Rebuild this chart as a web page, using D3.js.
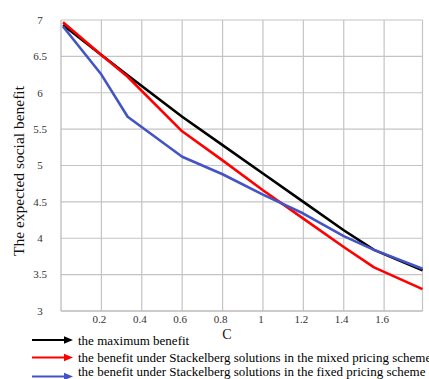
<!DOCTYPE html>
<html><head><meta charset="utf-8">
<script src="https://cdn.jsdelivr.net/npm/d3@7/dist/d3.min.js"></script>
<style>html,body{margin:0;padding:0;background:#fff;overflow:hidden}</style>
</head><body>
<svg id="chart" width="429" height="379"></svg>
<script>
const cValues = [0.01, 0.2, 0.33, 0.6, 0.8, 1.0, 1.2, 1.4, 1.55, 1.79];
const maxBenefit   = [6.93, 6.52, 6.24, 5.67, 5.28, 4.89, 4.50, 4.11, 3.84, 3.56];
const mixedBenefit = [6.97, 6.52, 6.22, 5.47, 5.07, 4.66, 4.27, 3.88, 3.60, 3.30];
const fixedBenefit = [6.91, 6.25, 5.67, 5.12, 4.88, 4.60, 4.34, 4.03, 3.84, 3.58];
const xTicks = [0.2, 0.4, 0.6, 0.8, 1, 1.2, 1.4, 1.6];
const yTicks = [3, 3.5, 4, 4.5, 5, 5.5, 6, 6.5, 7];
const seriesNames = [
  "the maximum benefit",
  "the benefit under Stackelberg solutions in the mixed pricing scheme",
  "the benefit under Stackelberg solutions in the fixed pricing scheme"
];
const seriesColors = ["#000000", "#ff0000", "#4454c4"];

const svg = d3.select("#chart");
const L = 61, R = 422.5, T = 20, B = 311;
const x = d3.scaleLinear().domain([0, 1.79]).range([L, R]);
const y = d3.scaleLinear().domain([3, 7]).range([B, T]);
const font = "'Liberation Serif','Times New Roman',serif";

// grid
const g = svg.append("g");
g.selectAll("line.h").data(yTicks).enter().append("line")
  .attr("x1", L).attr("x2", R).attr("y1", d => y(d)).attr("y2", d => y(d))
  .attr("stroke", "#c4c4c4").attr("stroke-width", 1.2);
g.selectAll("line.v").data(xTicks).enter().append("line")
  .attr("x1", d => x(d)).attr("x2", d => x(d)).attr("y1", T).attr("y2", B)
  .attr("stroke", "#c4c4c4").attr("stroke-width", 1.2);
// frame
g.append("line").attr("x1", L).attr("x2", L).attr("y1", T).attr("y2", B).attr("stroke", "#b8b8b8").attr("stroke-width", 1.2);
g.append("line").attr("x1", R).attr("x2", R).attr("y1", T).attr("y2", B).attr("stroke", "#c4c4c4").attr("stroke-width", 1.2);
g.append("line").attr("x1", L).attr("x2", R).attr("y1", B).attr("y2", B).attr("stroke", "#b8b8b8").attr("stroke-width", 1.2);

// tick labels
svg.selectAll("text.yt").data(yTicks).enter().append("text")
  .attr("x", 40).attr("y", d => y(d)).attr("dy", "0.35em")
  .attr("text-anchor", "middle").attr("font-family", font).attr("font-size", 11).attr("fill", "#333")
  .text(d => d);
svg.selectAll("text.xt").data(xTicks).enter().append("text")
  .attr("x", d => x(d) - 2).attr("y", 323)
  .attr("text-anchor", "middle").attr("font-family", font).attr("font-size", 11).attr("fill", "#333")
  .text(d => d);

// axis titles
svg.append("text").attr("transform", "translate(24,171) rotate(-90)")
  .attr("text-anchor", "middle").attr("font-family", font).attr("font-size", 15.5).attr("fill", "#111")
  .text("The expected social benefit");
svg.append("text").attr("x", 227).attr("y", 338.5)
  .attr("text-anchor", "middle").attr("font-family", font).attr("font-size", 14).attr("fill", "#111")
  .text("C");

// lines
const allSeries = [maxBenefit, mixedBenefit, fixedBenefit];
const line = d3.line().x((d, i) => x(cValues[i])).y(d => y(d));
[0, 1, 2].forEach(k => {
  svg.append("path").datum(allSeries[k]).attr("d", line)
    .attr("fill", "none").attr("stroke", seriesColors[k]).attr("stroke-width", 2.6)
    .attr("stroke-linejoin", "round");
});

// legend
const legY = [340, 357.5, 376.5];
const textY = [345, 361.5, 375.5];
seriesNames.forEach((name, k) => {
  svg.append("line").attr("x1", 32).attr("x2", 66).attr("y1", legY[k]).attr("y2", legY[k])
    .attr("stroke", seriesColors[k]).attr("stroke-width", 2.2);
  svg.append("path")
    .attr("d", `M64,${legY[k] - 3.8} L73,${legY[k]} L64,${legY[k] + 3.8} Z`)
    .attr("fill", seriesColors[k]);
  svg.append("text").attr("x", 78).attr("y", textY[k])
    .attr("font-family", font).attr("font-size", 13).attr("fill", "#000")
    .text(name);
});
</script>
</body></html>
